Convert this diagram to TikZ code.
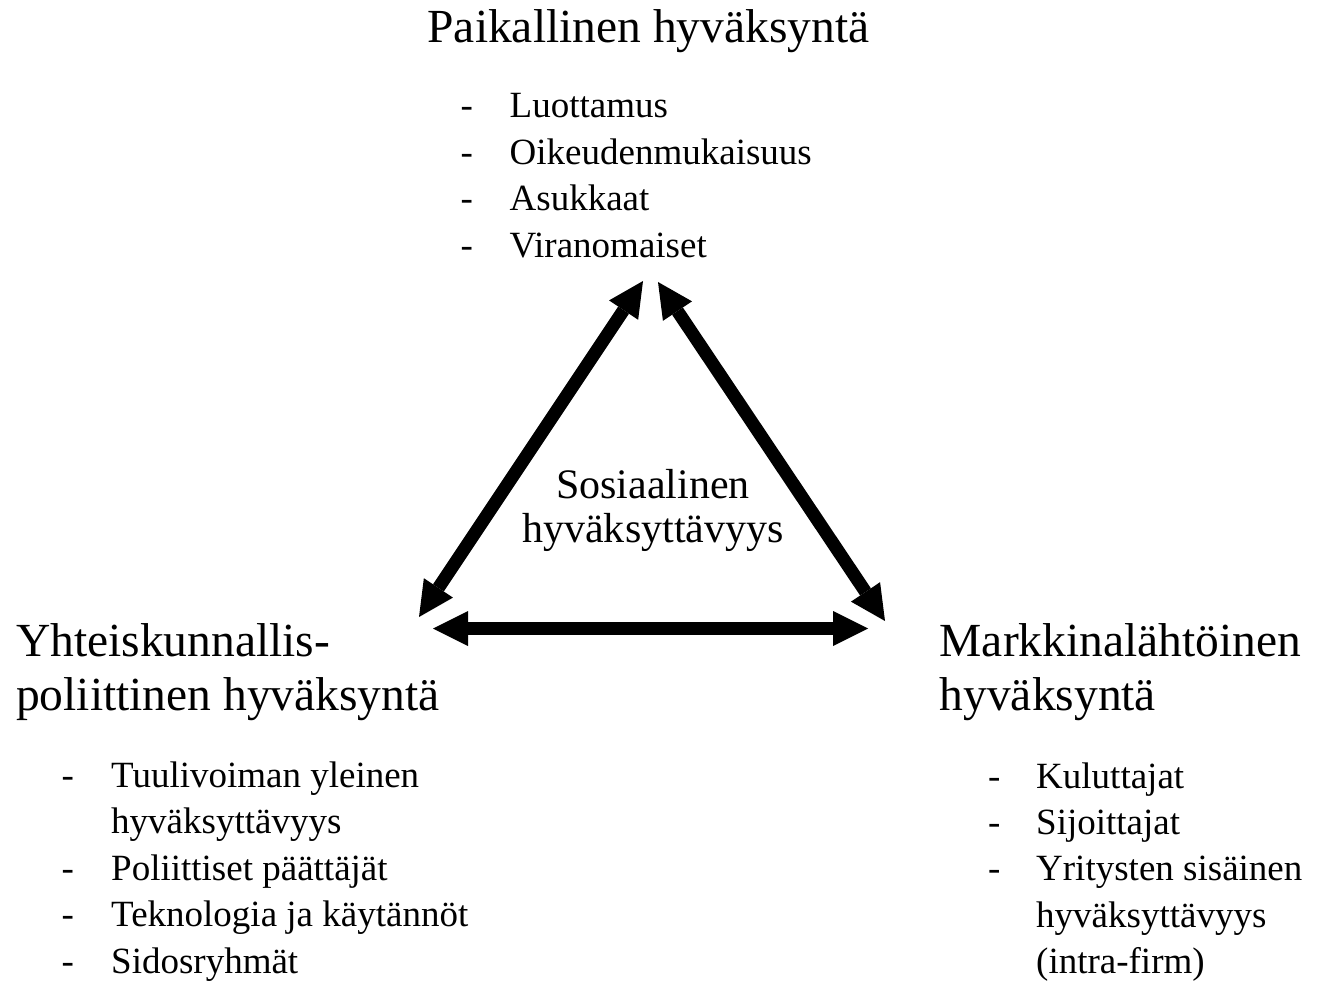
\documentclass[tikz,border=0pt]{standalone}
\usepackage{fontspec}
\setmainfont{Liberation Serif}
\usetikzlibrary{arrows.meta}
\tikzset{
  heading/.style={font=\fontsize{47.5}{57}\selectfont, inner sep=0pt, anchor=base west},
  itemtext/.style={font=\fontsize{37}{44}\selectfont, inner sep=0pt, anchor=base west},
  centertext/.style={font=\fontsize{42}{50}\selectfont, inner sep=0pt, anchor=base},
  dblarrow/.style={line width=13pt,
    arrows={Triangle[length=35pt,width=35pt,line width=0pt]-Triangle[length=35pt,width=35pt,line width=0pt]}}
}
\begin{document}
\begin{tikzpicture}[x=1pt,y=-1pt]
\useasboundingbox (0,0) rectangle (1322,981);
% top heading and list
\node[heading, anchor=base] (loc) at (648.5,43) {Paikallinen hyväksyntä};
\node[itemtext] (d1) at (460.5,118) {-};
\node[itemtext] (t1) at (509.5,118) {Luottamus};
\node[itemtext] (d2) at (460.5,164.5) {-};
\node[itemtext] (t2) at (509.5,164.5) {Oikeudenmukaisuus};
\node[itemtext] (d3) at (460.5,211) {-};
\node[itemtext] (t3) at (509.5,211) {Asukkaat};
\node[itemtext] (d4) at (460.5,257.5) {-};
\node[itemtext] (t4) at (509.5,257.5) {Viranomaiset};
% left heading and list
\node[heading] (pol1) at (16,656) {Yhteiskunnallis-};
\node[heading] (pol2) at (16,710) {poliittinen hyväksyntä};
\node[itemtext] (ld1) at (61.5,787) {-};
\node[itemtext] (lt1) at (111,787) {Tuulivoiman yleinen};
\node[itemtext] (lt1b) at (111,833.5) {hyväksyttävyys};
\node[itemtext] (ld2) at (61.5,880) {-};
\node[itemtext] (lt2) at (111,880) {Poliittiset päättäjät};
\node[itemtext] (ld3) at (61.5,926.5) {-};
\node[itemtext] (lt3) at (111,926.5) {Teknologia ja käytännöt};
\node[itemtext] (ld4) at (61.5,973) {-};
\node[itemtext] (lt4) at (111,973) {Sidosryhmät};
% right heading and list
\node[heading] (mkt1) at (939.5,656) {Markkinalähtöinen};
\node[heading] (mkt2) at (939.5,710) {hyväksyntä};
\node[itemtext] (rd1) at (988,788) {-};
\node[itemtext] (rt1) at (1036,788) {Kuluttajat};
\node[itemtext] (rd2) at (988,834) {-};
\node[itemtext] (rt2) at (1036,834) {Sijoittajat};
\node[itemtext] (rd3) at (988,880.5) {-};
\node[itemtext] (rt3) at (1036,880.5) {Yritysten sisäinen};
\node[itemtext] (rt3b) at (1036,927) {hyväksyttävyys};
\node[itemtext] (rt3c) at (1036,973) {(intra-firm)};
% centre
\node[centertext] (soc1) at (653,498) {Sosiaalinen};
\node[centertext] (soc2) at (653,542) {hyväksyttävyys};
% arrow tips
\coordinate (aTopL) at (643,281);
\coordinate (aLeft) at (419,617);
\coordinate (aTopR) at (658,282);
\coordinate (aRight) at (885,621);
\coordinate (aBotL) at (433,628.5);
\coordinate (aBotR) at (868,628.5);
\draw[dblarrow] (aLeft) -- (aTopL);
\draw[dblarrow] (aTopR) -- (aRight);
\draw[dblarrow] (aBotL) -- (aBotR);
\end{tikzpicture}
\end{document}
